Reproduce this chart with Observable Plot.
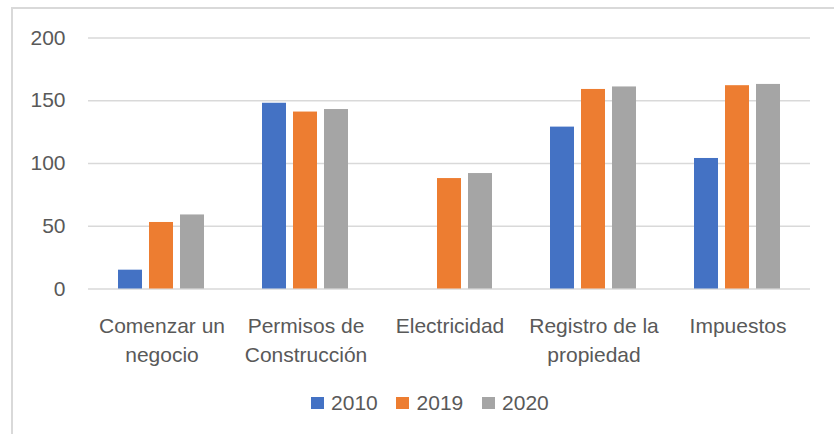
<!DOCTYPE html>
<html>
<head>
<meta charset="utf-8">
<script src="https://cdn.jsdelivr.net/npm/d3@7"></script>
<script src="https://cdn.jsdelivr.net/npm/@observablehq/plot@0.6"></script>
<style>
  html, body { margin: 0; padding: 0; background: #fff; }
  #wrap { position: relative; width: 834px; height: 434px; overflow: hidden; font-family: "Liberation Sans", Arial, sans-serif; color: #595959; }
  #frame { position: absolute; left: 11px; top: 7px; width: 900px; height: 500px; border: 2px solid #d9d9d9; box-sizing: border-box; }
  #bg, #fg { position: absolute; left: 0; top: 0; }
  #legend { position: absolute; top: 391px; left: 311px; display: flex; align-items: center; font-size: 21px; white-space: nowrap; }
  .item { display: flex; align-items: center; margin-right: 18.7px; }
  .sw { width: 12.7px; height: 12.3px; margin-right: 7.4px; }
</style>
</head>
<body>
<div id="wrap">
  <div id="frame"></div>
  <div id="bg"></div>
  <div id="fg"></div>
  <div id="legend"></div>
</div>
<script>
const categories = ["Comenzar un negocio", "Permisos de Construcción", "Electricidad", "Registro de la propiedad", "Impuestos"];
const tickLabels = ["Comenzar un\nnegocio", "Permisos de\nConstrucción", "Electricidad", "Registro de la\npropiedad", "Impuestos"];
const years = ["2010", "2019", "2020"];
const values2010 = [15, 148, null, 129, 104];
const values2019 = [53, 141, 88, 159, 162];
const values2020 = [59, 143, 92, 161, 163];
const colors = ["#4472C4", "#ED7D31", "#A5A5A5"];
const yTicks = [0, 50, 100, 150, 200];

const seriesValues = [values2010, values2019, values2020];
const table = [];
years.forEach((yr, s) => categories.forEach((c, i) => {
  table.push({category: c, year: yr, value: seriesValues[s][i]});
}));

const W = 834, H = 370;
const common = {
  width: W, height: H,
  marginTop: 37.5, marginBottom: 81.5, marginLeft: 88, marginRight: 24,
  style: {fontFamily: "'Liberation Sans', Arial, sans-serif", fontSize: "21px", color: "#595959", background: "transparent", overflow: "visible"}
};

const bg = Plot.plot({
  ...common,
  x: {type: "band", domain: categories, paddingInner: 0.383, paddingOuter: 0.19},
  y: {domain: [0, 200]},
  marks: [
    Plot.ruleY(yTicks, {stroke: "#d9d9d9", strokeWidth: 1.5}),
    Plot.axisY(yTicks, {tickSize: 0, tickPadding: 23, fontSize: 21}),
    Plot.axisX({tickSize: 0, tickPadding: 23, fontSize: 21, lineHeight: 1.38,
      tickFormat: d => tickLabels[categories.indexOf(d)]})
  ]
});
document.getElementById("bg").appendChild(bg);

const fg = Plot.plot({
  ...common,
  fx: {domain: categories, paddingInner: 0.383, paddingOuter: 0.19, axis: null, label: null},
  x: {domain: years, paddingInner: 0.21, paddingOuter: 0, axis: null},
  y: {domain: [0, 200], axis: null},
  color: {domain: years, range: colors},
  marks: [
    Plot.barY(table.filter(d => d.value != null), {fx: "category", x: "year", y: "value", fill: "year"})
  ]
});
document.getElementById("fg").appendChild(fg);

const legend = document.getElementById("legend");
years.forEach((yr, i) => {
  const item = document.createElement("div");
  item.className = "item";
  if (i === years.length - 1) item.style.marginRight = "0";
  const sw = document.createElement("div");
  sw.className = "sw";
  sw.style.background = colors[i];
  const t = document.createElement("span");
  t.textContent = yr;
  item.appendChild(sw); item.appendChild(t);
  legend.appendChild(item);
});
</script>
</body>
</html>
